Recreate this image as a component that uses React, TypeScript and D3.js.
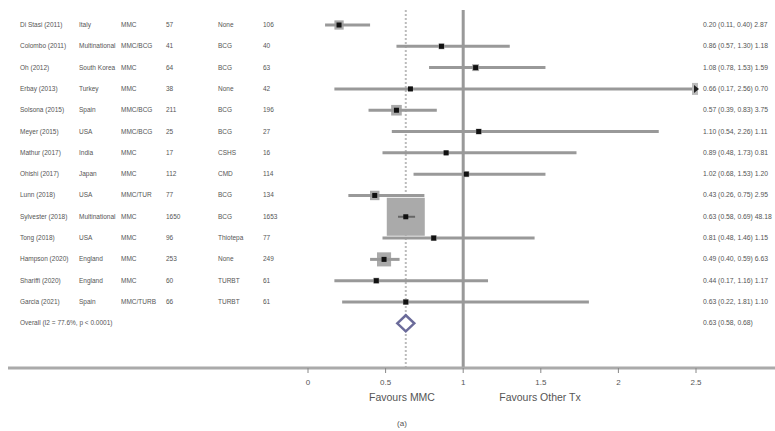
import * as d3 from "d3"

const studies = ["Di Stasi (2011)", "Colombo (2011)", "Oh (2012)", "Erbay (2013)", "Solsona (2015)", "Meyer (2015)", "Mathur (2017)", "Ohishi (2017)", "Lunn (2018)", "Sylvester (2018)", "Tong (2018)", "Hampson (2020)", "Shariffi (2020)", "Garcia (2021)"]
const countries = ["Italy", "Multinational", "South Korea", "Turkey", "Spain", "USA", "India", "Japan", "USA", "Multinational", "USA", "England", "England", "Spain"]
const treatments = ["MMC", "MMC/BCG", "MMC", "MMC", "MMC/BCG", "MMC/BCG", "MMC", "MMC", "MMC/TUR", "MMC", "MMC", "MMC", "MMC", "MMC/TURB"]
const nTreat = [57, 41, 64, 38, 211, 25, 17, 112, 77, 1650, 96, 253, 60, 66]
const comparators = ["None", "BCG", "BCG", "None", "BCG", "BCG", "CSHS", "CMD", "BCG", "BCG", "Thiotepa", "None", "TURBT", "TURBT"]
const nComp = [106, 40, 63, 42, 196, 27, 16, 114, 134, 1653, 77, 249, 61, 61]
const estimates = [0.2, 0.86, 1.08, 0.66, 0.57, 1.1, 0.89, 1.02, 0.43, 0.63, 0.81, 0.49, 0.44, 0.63]
const lowers = [0.11, 0.57, 0.78, 0.17, 0.39, 0.54, 0.48, 0.68, 0.26, 0.58, 0.48, 0.4, 0.17, 0.22]
const uppers = [0.4, 1.3, 1.53, 2.56, 0.83, 2.26, 1.73, 1.53, 0.75, 0.69, 1.46, 0.59, 1.16, 1.81]
const weights = [2.87, 1.18, 1.59, 0.7, 3.75, 1.11, 0.81, 1.2, 2.95, 48.18, 1.15, 6.63, 1.17, 1.1]
const overall = { est: 0.63, lo: 0.58, hi: 0.68, label: "Overall  (I2 = 77.6%, p < 0.0001)" }
const ticks = [0, 0.5, 1, 1.5, 2, 2.5]

const W = 775
const H = 431

export default function App() {
  const x = d3.scaleLinear().domain([0, 2.5]).range([308, 696])
  const y = d3.scalePoint<number>().domain(d3.range(studies.length + 1)).range([25, 323.3])
  const size = d3.scaleSqrt().domain([0, 48.18]).range([0, 38])
  const fmt = d3.format(".2f")
  const axisY = 368
  const textFill = "#555"
  const cols = [20, 79, 121, 166, 218, 263]

  return (
    <svg width={W} height={H} style={{ position: "absolute", left: 0, top: 0, background: "#fff" }} fontFamily="Liberation Sans, Arial, sans-serif">
      {/* reference lines */}
      <line x1={x(overall.est)} x2={x(overall.est)} y1={10} y2={axisY} stroke="#bbb" strokeWidth={2} strokeDasharray="2,2" />
      <line x1={x(1)} x2={x(1)} y1={10} y2={axisY} stroke="#999" strokeWidth={3} />

      {studies.map((s, i) => {
        const cy = y(i)!
        const hi = Math.min(uppers[i], 2.5)
        const side = size(weights[i])
        const row = [s, countries[i], treatments[i], String(nTreat[i]), comparators[i], String(nComp[i])]
        return (
          <g key={s}>
            {row.map((t, j) => (
              <text key={j} x={cols[j]} y={cy + 2} fontSize={6.5} fill={textFill}>{t}</text>
            ))}
            <rect x={x(estimates[i]) - side / 2} y={cy - side / 2} width={side} height={side} fill="#aaa" />
            <line x1={x(lowers[i])} x2={x(hi)} y1={cy} y2={cy} stroke={side > 20 ? "#666" : "#999"} strokeWidth={side > 20 ? 2 : 3} />
            <rect x={x(estimates[i]) - 2.5} y={cy - 2.5} width={5} height={5} fill="#111" />
            {uppers[i] > 2.5 && (
              <g>
                <rect x={x(2.5) - 4} y={cy - 6} width={6} height={12} fill="#bbb" />
                <path d={`M${x(2.5) - 2},${cy - 4} L${x(2.5) + 3},${cy} L${x(2.5) - 2},${cy + 4} Z`} fill="#222" />
              </g>
            )}
            <text x={703} y={cy + 2} fontSize={6.8} fill={textFill}>
              {`${fmt(estimates[i])} (${fmt(lowers[i])}, ${fmt(uppers[i])})  ${fmt(weights[i])}`}
            </text>
          </g>
        )
      })}

      {/* overall */}
      {(() => {
        const cy = y(studies.length)!
        const cx = x(overall.est)
        const hw = 8.5
        return (
          <g>
            <text x={cols[0]} y={cy + 2} fontSize={6.5} fill={textFill}>{overall.label}</text>
            <path d={`M${cx - hw},${cy} L${cx},${cy - 8} L${cx + hw},${cy} L${cx},${cy + 8} Z`} fill="#fff" stroke="#6b6b9a" strokeWidth={2.5} />
            <text x={703} y={cy + 2} fontSize={6.8} fill={textFill}>
              {`${fmt(overall.est)} (${fmt(overall.lo)}, ${fmt(overall.hi)})`}
            </text>
          </g>
        )
      })()}

      {/* axis */}
      <line x1={8} x2={W} y1={axisY} y2={axisY} stroke="#aaa" strokeWidth={3} />
      {ticks.map(t => (
        <g key={t}>
          <line x1={x(t)} x2={x(t)} y1={axisY} y2={axisY + 5} stroke="#888" strokeWidth={1} />
          <text x={x(t)} y={axisY + 17} fontSize={8} fill={textFill} textAnchor="middle">{String(t)}</text>
        </g>
      ))}
      <text x={402} y={axisY + 33} fontSize={10.5} fill={textFill} textAnchor="middle">Favours MMC</text>
      <text x={540} y={axisY + 33} fontSize={10.5} fill={textFill} textAnchor="middle">Favours Other Tx</text>
      <text x={402} y={axisY + 58} fontSize={8} fill={textFill} textAnchor="middle">(a)</text>
    </svg>
  )
}
